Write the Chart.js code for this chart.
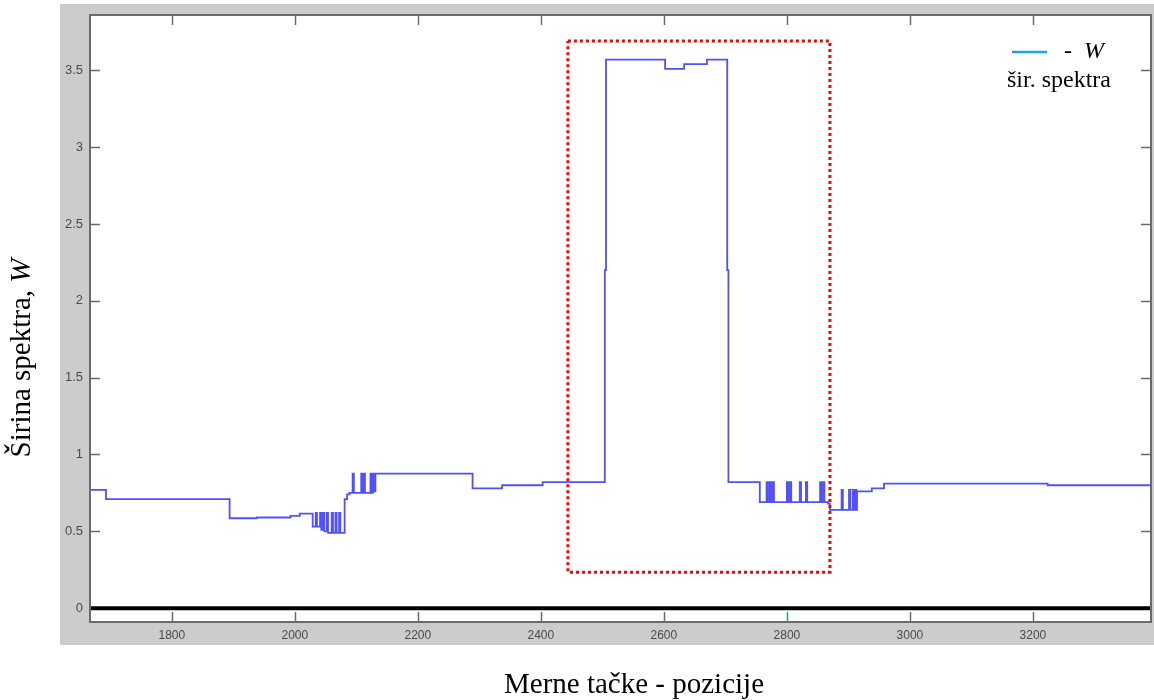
<!DOCTYPE html>
<html>
<head>
<meta charset="utf-8">
<script src="https://cdn.jsdelivr.net/npm/chart.js@4/dist/chart.umd.min.js"></script>
<style>
  body { margin: 0; background: #fff; }
  #wrap { width: 1154px; height: 700px; }
</style>
</head>
<body>
<div id="wrap"><canvas id="sirinaChart" width="1154" height="700"></canvas></div>
<script>
// merne tacke (start of each step) and sirina spektra W
const pozicije = [
  1667, 1693, 1894, 1938, 1993, 2008,
  2029, 2034, 2036, 2041, 2043, 2046, 2048, 2052, 2054, 2060, 2062, 2066, 2068, 2072, 2074,
  2081, 2085, 2089, 2094, 2096, 2108, 2110, 2112, 2114, 2123, 2125, 2127, 2129, 2131,
  2289, 2337, 2403, 2504, 2506, 2602, 2633, 2670, 2703, 2705,
  2756, 2767, 2769, 2772, 2774, 2777, 2779, 2800, 2802, 2805, 2807, 2821, 2823, 2831, 2833,
  2854, 2856, 2859, 2861, 2867, 2870,
  2889, 2891, 2901, 2903, 2907, 2909, 2911, 2913,
  2914, 2938, 2958, 3224, 3392
];
const sirina = [
  0.77, 0.71, 0.585, 0.59, 0.60, 0.615,
  0.53, 0.62, 0.53, 0.62, 0.51, 0.62, 0.50, 0.62, 0.49, 0.62, 0.49, 0.62, 0.49, 0.62, 0.49,
  0.71, 0.74, 0.75, 0.876, 0.75, 0.876, 0.75, 0.876, 0.75, 0.876, 0.75, 0.876, 0.76, 0.876,
  0.78, 0.80, 0.82, 2.2, 3.57, 3.51, 3.54, 3.57, 2.2, 0.82,
  0.69, 0.82, 0.69, 0.82, 0.69, 0.82, 0.69, 0.82, 0.69, 0.82, 0.69, 0.82, 0.69, 0.82, 0.69,
  0.82, 0.69, 0.82, 0.69, 0.68, 0.64,
  0.77, 0.64, 0.77, 0.64, 0.77, 0.64, 0.77, 0.64,
  0.76, 0.78, 0.81, 0.80, 0.80
];

// red dotted frame around the peak
const okvirX = [2444, 2870, 2870, 2444, 2444];
const okvirY = [3.69, 3.69, 0.234, 0.234, 3.69];

const xMin = 1667, xMax = 3392;
const yMin = -0.09, yMax = 3.86;
const xTicks = [1800, 2000, 2200, 2400, 2600, 2800, 3000, 3200];
const yTicks = [0, 0.5, 1, 1.5, 2, 2.5, 3, 3.5];

const toPts = (xs, ys) => xs.map((x, i) => ({ x: x, y: ys[i] }));

const background = {
  id: "background",
  beforeDraw(chart) {
    const c = chart.ctx, a = chart.chartArea;
    c.save();
    c.fillStyle = "#fff";
    c.fillRect(0, 0, chart.width, chart.height);
    c.fillStyle = "#cccccc";
    c.fillRect(60, 4, chart.width - 60, 641);
    c.fillStyle = "#fff";
    c.fillRect(a.left, a.top, a.right - a.left, a.bottom - a.top);
    c.restore();
  },
  beforeDatasetsDraw(chart) {
    // inward tick marks, MATLAB style
    const c = chart.ctx, a = chart.chartArea;
    const xs = chart.scales.x, ys = chart.scales.y;
    c.save();
    c.lineWidth = 1.5;
    xTicks.forEach(v => {
      const px = Math.round(xs.getPixelForValue(v)) + 0.5;
      c.strokeStyle = v === 2800 ? "#2a9a9a" : "#6a6a6a";
      c.beginPath();
      c.moveTo(px, a.bottom); c.lineTo(px, a.bottom - 10);
      c.stroke();
      c.strokeStyle = "#6a6a6a";
      c.beginPath();
      c.moveTo(px, a.top); c.lineTo(px, a.top + 10);
      c.stroke();
    });
    c.strokeStyle = "#6a6a6a";
    yTicks.forEach(v => {
      const py = Math.round(ys.getPixelForValue(v)) + 0.5;
      c.beginPath();
      c.moveTo(a.left, py); c.lineTo(a.left + 10, py);
      c.moveTo(a.right, py); c.lineTo(a.right - 10, py);
      c.stroke();
    });
    c.restore();
  }
};

const frame = {
  id: "frame",
  afterDraw(chart) {
    const c = chart.ctx, a = chart.chartArea;
    c.save();
    c.strokeStyle = "#6a6a6a";
    c.lineWidth = 2;
    c.strokeRect(a.left, a.top, a.right - a.left, a.bottom - a.top);

    // axis titles
    c.fillStyle = "#000";
    c.textBaseline = "middle";
    const yT1 = "Širina spektra, ", yT2 = "W";
    c.font = "29px 'Liberation Serif'";
    const w1 = c.measureText(yT1).width;
    c.font = "italic 29px 'Liberation Serif'";
    const w2 = c.measureText(yT2).width;
    c.save();
    c.translate(22, 358);
    c.rotate(-Math.PI / 2);
    c.textAlign = "left";
    c.font = "29px 'Liberation Serif'";
    c.fillText(yT1, -(w1 + w2) / 2, 0);
    c.font = "italic 29px 'Liberation Serif'";
    c.fillText(yT2, -(w1 + w2) / 2 + w1, 0);
    c.restore();

    c.textAlign = "center";
    c.font = "29px 'Liberation Serif'";
    c.fillText("Merne tačke - pozicije", 634, 685);

    // legend
    c.strokeStyle = "#1ea5e6";
    c.lineWidth = 2.5;
    c.beginPath();
    c.moveTo(1012, 52); c.lineTo(1047, 52);
    c.stroke();
    c.textAlign = "left";
    c.font = "24px 'Liberation Serif'";
    c.fillText("-", 1064, 52);
    c.font = "italic 24px 'Liberation Serif'";
    c.fillText("W", 1084, 52);
    c.font = "24px 'Liberation Serif'";
    c.fillText("šir. spektra", 1007, 81);
    c.restore();
  }
};

const ctx = document.getElementById("sirinaChart").getContext("2d");
new Chart(ctx, {
  type: "line",
  data: {
    datasets: [
      {
        label: "okvir",
        data: toPts(okvirX, okvirY),
        borderColor: "#ff0000",
        borderWidth: 3,
        borderDash: [3, 3],
        pointRadius: 0,
        fill: false,
        order: 0
      },
      {
        label: "nula",
        data: toPts([xMin, xMax], [0, 0]),
        borderColor: "#000",
        borderWidth: 4,
        pointRadius: 0,
        fill: false,
        order: 1
      },
      {
        label: "W",
        data: toPts(pozicije, sirina),
        stepped: true,
        borderColor: "rgb(80,80,255)",
        borderWidth: 1.8,
        pointRadius: 0,
        fill: false,
        order: 2
      }
    ]
  },
  options: {
    responsive: false,
    animation: false,
    devicePixelRatio: 1,
    layout: { padding: { left: 0, right: 3, top: 15, bottom: 0 } },
    plugins: { legend: { display: false }, tooltip: { enabled: false } },
    scales: {
      x: {
        type: "linear",
        min: xMin,
        max: xMax,
        afterFit: s => { s.height = 78; },
        afterBuildTicks: s => { s.ticks = xTicks.map(v => ({ value: v })); },
        grid: { display: false, drawTicks: false },
        border: { display: false },
        ticks: {
          padding: 6,
          maxRotation: 0,
          color: "#4a4a4a",
          font: { family: "'Liberation Sans'", size: 12 },
          callback: v => String(v)
        }
      },
      y: {
        type: "linear",
        min: yMin,
        max: yMax,
        afterFit: s => { s.width = 90; },
        afterBuildTicks: s => { s.ticks = yTicks.map(v => ({ value: v })); },
        grid: { display: false, drawTicks: false },
        border: { display: false },
        ticks: {
          padding: 7,
          color: "#4a4a4a",
          font: { family: "'Liberation Sans'", size: 13 },
          callback: v => String(v)
        }
      }
    }
  },
  plugins: [background, frame]
});
</script>
</body>
</html>
